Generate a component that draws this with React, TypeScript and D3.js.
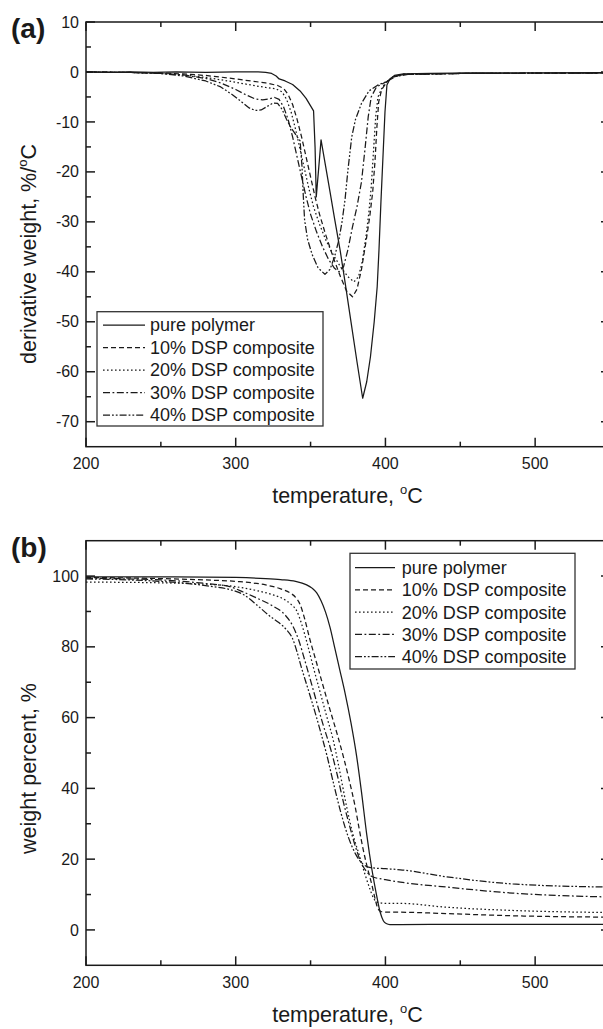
import React from "react";
import * as d3 from "d3";

type Pt = [number, number];

const seriesNames = [
  "pure polymer",
  "10% DSP composite",
  "20% DSP composite",
  "30% DSP composite",
  "40% DSP composite",
];

// (a) derivative weight, %/°C vs temperature
const dtgPure: Pt[] = [
  [200, 0], [215, -0.1], [230, 0], [245, -0.1], [260, 0], [280, -0.1], [300, 0], [315, 0], [320, -0.1],
  [324, -0.3], [327, -0.8], [329, -1.4], [333, -1.8], [338, -2.5], [343, -3.8], [347, -5.3], [350, -6.8],
  [352, -7.8], [353, -15], [353.8, -25], [355.5, -19], [357, -13.6], [360, -18.8], [363, -24], [366, -29.3],
  [369.7, -35.6], [373, -42], [377, -50], [381, -58], [384.8, -65.3], [387.5, -62], [390, -57], [392.5, -50],
  [394.5, -43], [395.7, -35.6], [397, -26], [398.5, -16], [399.7, -8], [401, -2.6], [403, -1.4], [406, -0.7],
  [412, -0.4], [430, -0.3], [460, -0.2], [500, -0.2], [550, -0.1],
];
const dtg10: Pt[] = [
  [200, 0], [230, -0.1], [250, -0.2], [265, -0.4], [280, -0.7], [295, -1.2], [310, -1.8], [320, -2.2],
  [328, -2.7], [332, -3.3], [335, -4.5], [338, -6.5], [341, -9.5], [344, -13], [347, -17], [350, -21],
  [353, -25], [356, -28.5], [360, -32.5], [365, -37], [370, -41], [374, -43.8], [378, -45], [381, -43.5],
  [384, -39.5], [387, -34], [389.5, -29], [391.5, -24], [393, -18], [394.3, -11], [395.5, -6], [397.5, -3.5],
  [401, -2], [405, -1], [412, -0.5], [450, -0.3], [550, -0.2],
];
const dtg20: Pt[] = [
  [200, 0], [230, -0.1], [250, -0.3], [265, -0.6], [280, -1.1], [295, -1.8], [310, -2.6], [320, -3.1],
  [327, -3.4], [331, -4], [334, -5.5], [337, -8], [340, -11.5], [343, -15.5], [346, -19.5], [349, -23.5],
  [352, -27], [356, -30.5], [360, -33.5], [365, -36.5], [370, -39], [375, -41], [379, -42], [382, -41],
  [384.5, -38], [387, -33], [389, -28], [390.5, -23], [392, -16], [393.5, -9], [395, -5], [398, -3],
  [401, -1.9], [405, -1], [412, -0.5], [450, -0.3], [550, -0.2],
];
const dtg30: Pt[] = [
  [200, 0], [230, -0.1], [250, -0.3], [265, -0.6], [280, -1.3], [290, -2.2], [300, -3.5], [307, -4.6],
  [313, -5.4], [318, -5.6], [322, -5.4], [326, -5.1], [329, -5.5], [332, -7], [335, -9.5], [338, -13],
  [341, -17], [344, -21], [347, -25], [350, -28.5], [354, -32], [358, -35], [362, -37.5], [366, -39.3],
  [369, -40], [372, -39], [375, -35.5], [378, -31], [381, -27], [384, -22], [386.5, -15], [388.5, -9],
  [390.5, -5], [394, -3], [401, -1.9], [405, -1], [412, -0.5], [450, -0.3], [550, -0.2],
];
const dtg40: Pt[] = [
  [200, 0], [230, -0.1], [250, -0.3], [265, -0.8], [280, -1.8], [290, -3], [298, -4.6], [304, -6],
  [309, -7.2], [313, -7.7], [317, -7.6], [321, -6.9], [325, -6.2], [328, -6.3], [331, -7.5], [334, -9.5],
  [337, -11.2], [340, -12.5], [343, -13.8], [344.3, -19], [345, -24], [346, -29.6], [348, -33.5],
  [351, -36.5], [355, -39.2], [359.6, -40.5], [363, -39.5], [366, -37], [369, -33.5], [371, -30],
  [373, -25.6], [375, -19.5], [377.5, -13], [380, -9.5], [384, -6.3], [389, -3.8], [395, -2.6], [401, -1.9],
  [407, -0.9], [415, -0.5], [450, -0.3], [550, -0.2],
];

// (b) weight percent vs temperature
const tgaPure: Pt[] = [
  [200, 99.8], [250, 99.8], [300, 99.6], [320, 99.3], [330, 99.0], [340, 98.5], [347, 97.6], [351, 96.6],
  [354, 95.3], [357, 93], [360, 89.8], [363, 85.5], [366, 80], [369.5, 73.5], [373, 67], [377, 58.5],
  [380.8, 49], [384, 39], [387.5, 27], [391, 17], [394, 10], [396.5, 5], [398.6, 2.6], [400.5, 1.8],
  [403, 1.5], [410, 1.5], [450, 1.6], [500, 1.6], [550, 1.6],
];
const tga10: Pt[] = [
  [200, 99.6], [250, 99.3], [280, 98.9], [300, 98.5], [320, 97.5], [330, 96.4], [336, 95.3], [340, 94],
  [343, 92], [346, 88], [349.6, 82], [354, 75.5], [358, 69.5], [363, 62.2], [368, 55], [371.9, 49],
  [376, 42], [379.7, 35], [382.5, 28.5], [385.2, 22.6], [388, 17.5], [390.8, 13], [393, 9], [395, 6],
  [397, 5.2], [400, 5.0], [410, 5.0], [441, 4.6], [485, 4.0], [550, 3.6],
];
const tga20: Pt[] = [
  [200, 98.3], [250, 98.1], [280, 97.7], [300, 97.0], [315, 95.8], [325, 94.7], [332, 93.5], [337, 92],
  [340.7, 90.2], [344, 86.5], [347.4, 81.5], [352, 74], [356.5, 67], [361, 60], [365.1, 53.7], [368, 48],
  [371, 41.5], [374, 35], [378, 27.5], [383, 20.5], [386.5, 15.5], [389.7, 11.5], [392, 9], [395, 7.8],
  [400, 7.5], [410, 7.5], [441, 6.4], [485, 5.5], [550, 4.9],
];
const tga30: Pt[] = [
  [200, 99.4], [250, 98.9], [280, 97.9], [296, 97.0], [305, 95.5], [315, 93.6], [325, 91.5], [333, 89],
  [338, 86], [342, 82], [346, 76.4], [352, 67.5], [358, 58.5], [363.5, 51], [368, 43.5], [372, 36],
  [376, 29.5], [380, 23.5], [384, 18.8], [388, 16.2], [391, 15.1], [400, 14.2], [410, 13.5], [441, 12.1],
  [485, 10.4], [550, 9.3],
];
const tga40: Pt[] = [
  [200, 99.2], [230, 98.9], [250, 98.5], [270, 97.8], [285, 97], [296, 96.2], [305, 94.8], [315, 91.5],
  [323, 88.6], [329, 86.8], [334, 84.8], [338, 82.3], [341, 78.5], [344, 74], [348, 68.5], [353, 61.5],
  [357, 55.5], [360.8, 49.5], [365, 42], [370, 33.5], [375, 26.5], [380, 21.5], [385, 18.6], [390, 17.6],
  [400, 17.3], [410, 17.0], [441, 15], [485, 13], [550, 12.1],
];

const xDomain: Pt = [200, 550];
const xMajorTicks = [200, 300, 400, 500];
const xMinorTicks = [250, 350, 450, 550];
const dtgDomain: Pt = [-75, 10];
const dtgMajorTicks = [10, 0, -10, -20, -30, -40, -50, -60, -70];
const dtgMinorTicks = [5, -5, -15, -25, -35, -45, -55, -65];
const tgaDomain: Pt = [-10, 110];
const tgaMajorTicks = [100, 80, 60, 40, 20, 0];
const tgaMinorTicks = [90, 70, 50, 30, 10];

const DASHES = ["none", "5,3", "1.6,2.4", "7,2.5,1.8,2.5", "7,2,1.8,2,1.8,2"];
const FONT = "'Liberation Sans', Arial, Helvetica, sans-serif";
const INK = "#1a1a1a";

type PanelProps = {
  top: number;
  bottom: number;
  yDomain: Pt;
  yMajor: number[];
  yMinor: number[];
  series: Pt[][];
  curve: d3.CurveFactory;
  legend: { x0: number; x1: number; y0: number; y1: number; sx0: number; sx1: number; tx: number; rowY: number; rowH: number };
  label: string;
  labelY: number;
  yTitle: React.ReactNode;
  yTitleCenter: number;
  tickBaseline: number;
  xTitleBaseline: number;
};

function Panel(p: PanelProps) {
  const left = 86;
  const right = 610;
  const x = d3.scaleLinear().domain(xDomain).range([left, right]);
  const y = d3.scaleLinear().domain(p.yDomain).range([p.bottom, p.top]);
  const line = d3
    .line<Pt>()
    .x((d) => x(d[0]))
    .y((d) => y(d[1]))
    .curve(p.curve);
  const MJ = 9;
  const MN = 5;
  const lg = p.legend;
  return (
    <g>
      {p.series.map((s, i) => (
        <path
          key={i}
          d={line(s) || ""}
          fill="none"
          stroke={INK}
          strokeWidth={1.25}
          strokeDasharray={DASHES[i]}
          strokeLinejoin="round"
        />
      ))}
      {/* frame */}
      <rect x={left} y={p.top} width={right - left} height={p.bottom - p.top} fill="none" stroke={INK} strokeWidth={1.5} />
      {/* x ticks */}
      {xMajorTicks.map((t) => (
        <g key={"xm" + t}>
          <line x1={x(t)} x2={x(t)} y1={p.bottom} y2={p.bottom - MJ} stroke={INK} strokeWidth={1.5} />
          <line x1={x(t)} x2={x(t)} y1={p.top} y2={p.top + MJ} stroke={INK} strokeWidth={1.5} />
          <text x={x(t)} y={p.tickBaseline} textAnchor="middle" fontSize={16} fontFamily={FONT} fill={INK}>
            {String(t)}
          </text>
        </g>
      ))}
      {xMinorTicks.map((t) => (
        <g key={"xn" + t}>
          <line x1={x(t)} x2={x(t)} y1={p.bottom} y2={p.bottom - MN} stroke={INK} strokeWidth={1.5} />
          <line x1={x(t)} x2={x(t)} y1={p.top} y2={p.top + MN} stroke={INK} strokeWidth={1.5} />
        </g>
      ))}
      {/* y ticks */}
      {p.yMajor.map((t) => (
        <g key={"ym" + t}>
          <line x1={left} x2={left + MJ} y1={y(t)} y2={y(t)} stroke={INK} strokeWidth={1.5} />
          <line x1={right} x2={right - MJ} y1={y(t)} y2={y(t)} stroke={INK} strokeWidth={1.5} />
          <text x={79} y={y(t)} dy="0.35em" textAnchor="end" fontSize={16} fontFamily={FONT} fill={INK}>
            {String(t)}
          </text>
        </g>
      ))}
      {p.yMinor.map((t) => (
        <g key={"yn" + t}>
          <line x1={left} x2={left + MN} y1={y(t)} y2={y(t)} stroke={INK} strokeWidth={1.5} />
          <line x1={right} x2={right - MN} y1={y(t)} y2={y(t)} stroke={INK} strokeWidth={1.5} />
        </g>
      ))}
      {/* titles */}
      <text x={347.5} y={p.xTitleBaseline} textAnchor="middle" fontSize={21.5} fontFamily={FONT} fill={INK}>
        temperature, <tspan dy={-9} fontSize={13}>o</tspan>
        <tspan dy={9}>C</tspan>
      </text>
      <text
        transform={`translate(36,${p.yTitleCenter}) rotate(-90)`}
        textAnchor="middle"
        fontSize={21.5}
        fontFamily={FONT}
        fill={INK}
      >
        {p.yTitle}
      </text>
      <text x={11} y={p.labelY} fontSize={28} fontWeight="bold" fontFamily={FONT} fill={INK}>
        {p.label}
      </text>
      {/* legend */}
      <rect x={lg.x0} y={lg.y0} width={lg.x1 - lg.x0} height={lg.y1 - lg.y0} fill="#fff" stroke="#333" strokeWidth={1.3} />
      {seriesNames.map((n, i) => {
        const ry = lg.rowY + i * lg.rowH;
        return (
          <g key={n}>
            <line x1={lg.sx0} x2={lg.sx1} y1={ry} y2={ry} stroke={INK} strokeWidth={1.25} strokeDasharray={DASHES[i]} />
            <text x={lg.tx} y={ry} dy="0.35em" fontSize={18} fontFamily={FONT} fill={INK}>
              {n}
            </text>
          </g>
        );
      })}
    </g>
  );
}

export default function App() {
  return (
    <svg
      width={603}
      height={1029}
      viewBox="0 0 603 1029"
      style={{ position: "absolute", left: 0, top: 0, display: "block", background: "#fff" }}
    >
      <rect x={0} y={0} width={603} height={1029} fill="#fff" />
      <Panel
        top={22}
        bottom={446.7}
        yDomain={dtgDomain}
        yMajor={dtgMajorTicks}
        yMinor={dtgMinorTicks}
        series={[dtgPure, dtg10, dtg20, dtg30, dtg40]}
        curve={d3.curveLinear}
        legend={{ x0: 97, x1: 323, y0: 311.7, y1: 426, sx0: 103, sx1: 145, tx: 150, rowY: 325, rowH: 22.5 }}
        label="(a)"
        labelY={38}
        yTitle={
          <>
            derivative weight, %/<tspan dy={-9} fontSize={13}>o</tspan>
            <tspan dy={9}>C</tspan>
          </>
        }
        yTitleCenter={254}
        tickBaseline={469}
        xTitleBaseline={503}
      />
      <Panel
        top={540.7}
        bottom={965.3}
        yDomain={tgaDomain}
        yMajor={tgaMajorTicks}
        yMinor={tgaMinorTicks}
        series={[tgaPure, tga10, tga20, tga30, tga40]}
        curve={d3.curveMonotoneX}
        legend={{ x0: 350, x1: 575, y0: 553.3, y1: 669, sx0: 355, sx1: 395, tx: 401.7, rowY: 567.7, rowH: 22.25 }}
        label="(b)"
        labelY={557}
        yTitle={<>weight percent, %</>}
        yTitleCenter={768.5}
        tickBaseline={988}
        xTitleBaseline={1022}
      />
    </svg>
  );
}
